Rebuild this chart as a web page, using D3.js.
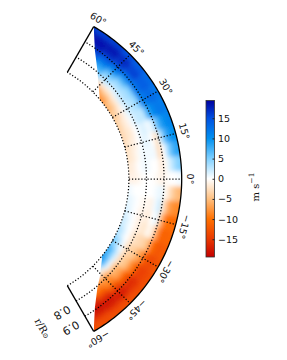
<!DOCTYPE html>
<html>
<head>
<meta charset="utf-8">
<script src="https://cdn.jsdelivr.net/npm/d3@7"></script>
<style>
html, body { margin: 0; padding: 0; background: #fff; }
svg { display: block; }
.grid { fill: none; stroke: #000; stroke-width: 1.25; stroke-dasharray: 1.2 1.9; }
.frame { fill: none; stroke: #000; stroke-width: 1.3; }
.lat-label, .r-label { font-family: "DejaVu Sans"; font-size: 9.5px; fill: #111; }
.unit { font-family: "DejaVu Serif"; font-size: 10px; fill: #111; }
</style>
</head>
<body>
<div id="chart"></div>
<script>
const radii = [0.7125, 0.7375, 0.7625, 0.7875, 0.8125, 0.8375, 0.8625, 0.8875, 0.9125, 0.9375, 0.9625, 0.9875];
const latitudes = [60, 55, 50, 45, 40, 35, 30, 25, 20, 15, 10, 5, 0, -5, -10, -15, -20, -25, -30, -35, -40, -45, -50, -55, -60];

// velocity in m/s, one row per latitude, inner to outer radius
const velocity = [
    [5, 6, 8, 10, 12, 14, 16, 17, 18, 18.5, 18, 16],
    [2, 4, 6, 8, 10, 12, 14, 16, 18, 18.5, 18, 16],
    [-5, -1, 2, 5, 7, 9, 12, 14.5, 17, 18, 18, 16],
    [-8, -6, -2, 2, 4, 6, 10, 13, 16, 17, 17, 15],
    [-7.5, -5, -2, 1, 3, 4, 7, 11, 14, 16, 15.5, 14],
    [-5.5, -4, -1.5, 1.5, 3, 3.5, 5, 11, 13, 14, 14, 13],
    [-4, -3, -1, 1, 2.5, 3, 4.5, 10.5, 12, 13, 13, 12],
    [-3.5, -2, -1, 0.5, 2, 2.5, 2.5, 7.5, 10, 11.5, 12, 11.5],
    [-3, -2, -1.5, 0, 1, 1.5, 0.5, 1.5, 6, 9, 10.5, 11],
    [-2.5, -1.5, -1, 0, 1, 1, 0, -2.5, 2.5, 7, 9.5, 10],
    [-2, -1.5, -0.5, 0.5, 0.5, 0.5, 0.5, -3, 0, 4, 7, 8.5],
    [-1.5, -1, 0, 0.5, 0.5, 0, 0, -1.5, -0.5, 1.5, 3.5, 5],
    [-1, -1, -0.5, 0, 0, 0, -0.5, -1, -0.5, 0, 0, 0.5],
    [0.5, 0, 0, 0, 0, 0, 0.5, 1, -0.5, -2.5, -4.5, -5.5],
    [1, 0.5, 0, -0.5, -0.5, -1, 0.5, 2, -2.5, -6.5, -8, -8.5],
    [1.5, 0.5, 0, -1, -1, -1.5, 0, 1, -5, -9.5, -10.5, -10.5],
    [2, 1, 0, -1, -1.5, -2, -0.5, -2, -7, -11, -11.5, -11],
    [3, 1.5, 0, -1.5, -2.5, -3, -3.5, -5, -9.5, -12, -12.5, -12],
    [5, 3, 0.5, -2, -3.5, -4, -6, -8, -12, -13.5, -13.5, -12.5],
    [7.5, 5, 1.5, -2.5, -4, -5, -8, -10.5, -14, -14.5, -14, -13],
    [9, 6, 1, -4, -6, -7, -10, -13, -16, -16, -14.5, -13],
    [6, 2, -2, -6, -8, -9, -12, -15, -17, -17, -14.5, -13],
    [2, -2, -4, -7, -9, -11, -14, -17, -18, -17, -14.5, -13],
    [-1, -3, -5, -8, -11, -13, -16, -18, -18.5, -16.5, -14, -13],
    [-3, -5, -7, -10, -13, -15, -17, -19, -19, -16, -14, -13]
];

// where the data stops: radius and latitude along each edge
const edgeRadii = [0.7, 0.71, 0.77, 0.81, 0.89, 1];
const northEdge = [40.5, 41.3, 47, 50, 55.3, 60];
const southEdge = [-39, -39.6, -46, -50, -55.3, -60];

const colorValues = [-19.4, -15, -10, -5, 0, 5, 10, 15, 19.4];
const colorHexes = ["#c40000", "#e83800", "#ff7000", "#ffc080", "#ffffff", "#80d0ff", "#0090f0", "#0050e0", "#0000a0"];

const latTicks = [60, 45, 30, 15, 0, -15, -30, -45, -60];
const radiusGrid = [0.7, 0.8, 0.9];
const radiusLabels = [0.8, 0.9];
const barTicks = [15, 10, 5, 0, -5, -10, -15];

const width = 287, height = 360;
const cx = 5.7, cy = 179;
const rStep = 0.025, latStep = 5;

const svg = d3.select("#chart").append("svg").attr("width", width).attr("height", height);
const defs = svg.append("defs");
const plot = svg.append("g").attr("transform", `translate(${cx}, ${cy})`);

const rScale = d3.scaleLinear().domain([0, 1]).range([0, 176]);
const angle = d3.scaleLinear().domain([-90, 90]).range([Math.PI, 0]);
const color = d3.scaleLinear().domain(colorValues).range(colorHexes).clamp(true);
const arc = d3.arc();
const polar = (r, lat) => [r * Math.sin(angle(lat)), -r * Math.cos(angle(lat))];
const radial = d3.lineRadial().angle(d => angle(d.lat)).radius(d => rScale(d.r));
const circleAt = r => d3.range(-60, 61).map(lat => ({ r: r, lat: lat }));

// outline of the region with data
const north = edgeRadii.map((r, i) => ({ r: r, lat: northEdge[i] }));
const south = edgeRadii.map((r, i) => ({ r: r, lat: southEdge[i] }));
const outerArc = d3.range(-58, 60, 2).map(lat => ({ r: 1, lat: lat }));
const innerArc = d3.range(38, -38, -2).map(lat => ({ r: 0.7, lat: lat }));
const outline = [...north.slice().reverse(), ...innerArc, ...south, ...outerArc];

defs.append("clipPath").attr("id", "field-clip")
    .append("path").attr("d", radial.curve(d3.curveLinearClosed)(outline));
radial.curve(d3.curveLinear);

defs.append("filter").attr("id", "smooth")
    .attr("filterUnits", "userSpaceOnUse")
    .attr("x", -20).attr("y", -200).attr("width", 240).attr("height", 400)
    .append("feGaussianBlur").attr("stdDeviation", 2.3);

const field = plot.append("g").attr("clip-path", "url(#field-clip)")
    .append("g").attr("filter", "url(#smooth)");

latitudes.forEach((lat, row) => {
    radii.forEach((r, col) => {
        // border cells run past the clip so the blur does not fade at the edge
        const pad = (col === 0 ? -12 : 0);
        const padOut = (col === radii.length - 1 ? 12 : 0);
        const top = lat === 60 ? lat + 8 : lat + latStep / 2;
        const bottom = lat === -60 ? lat - 8 : lat - latStep / 2;
        field.append("path")
            .attr("d", arc({
                innerRadius: rScale(r - rStep / 2) + pad,
                outerRadius: rScale(r + rStep / 2) + padOut,
                startAngle: angle(top),
                endAngle: angle(bottom)
            }))
            .attr("fill", color(velocity[row][col]))
            .attr("stroke", color(velocity[row][col]))
            .attr("stroke-width", 0.5);
    });
});

// dotted grid
latTicks.filter(d => Math.abs(d) < 60).forEach(lat => {
    const a = polar(rScale(0.7), lat), b = polar(rScale(1), lat);
    plot.append("line").attr("class", "grid")
        .attr("x1", a[0]).attr("y1", a[1]).attr("x2", b[0]).attr("y2", b[1]);
});
radiusGrid.forEach(r => {
    plot.append("path").attr("class", "grid").attr("d", radial(circleAt(r)));
});

// solid frame
plot.append("path").attr("class", "frame").attr("d", radial(circleAt(1)));
[60, -60].forEach(lat => {
    const a = polar(rScale(0.7), lat), b = polar(rScale(1), lat);
    plot.append("line").attr("class", "frame")
        .attr("x1", a[0]).attr("y1", a[1]).attr("x2", b[0]).attr("y2", b[1]);
});

// latitude labels turn with the angle
latTicks.forEach(lat => {
    const p = polar(185, lat);
    plot.append("text").attr("class", "lat-label")
        .attr("transform", `translate(${p[0]}, ${p[1]}) rotate(${90 - lat})`)
        .attr("text-anchor", "middle")
        .attr("dominant-baseline", "central")
        .text(`${lat < 0 ? "\u2212" : ""}${Math.abs(lat)}\u00b0`);
});

// radius labels below the -60 edge
radiusLabels.forEach(r => {
    const p = polar(rScale(r), -60);
    plot.append("text").attr("class", "r-label")
        .attr("transform", `translate(${p[0] - 14.2}, ${p[1] + 11.5}) rotate(150)`)
        .attr("text-anchor", "middle")
        .attr("dominant-baseline", "central")
        .style("font-size", "11px")
        .text(r.toFixed(1));
});
const axisLabel = plot.append("text").attr("class", "unit")
    .attr("transform", `translate(${43 - cx}, ${328 - cy}) rotate(60)`)
    .attr("text-anchor", "middle")
    .attr("dominant-baseline", "central");
axisLabel.append("tspan").text("r/R");
axisLabel.append("tspan").attr("dy", 2).style("font-size", "7px").text("\u2299");

// colorbar
const barX = 206, barW = 8.5;
const barY = d3.scaleLinear().domain([-19.4, 19.4]).range([257, 100.5]);
const gradient = defs.append("linearGradient").attr("id", "bar-gradient")
    .attr("x1", 0).attr("y1", 1).attr("x2", 0).attr("y2", 0);
colorValues.forEach((v, i) => {
    gradient.append("stop")
        .attr("offset", (v + 19.4) / 38.8)
        .attr("stop-color", colorHexes[i]);
});
svg.append("rect")
    .attr("x", barX).attr("y", barY(19.4))
    .attr("width", barW).attr("height", barY(-19.4) - barY(19.4))
    .attr("fill", "url(#bar-gradient)")
    .attr("stroke", "#333").attr("stroke-width", 0.8);

const barAxis = svg.append("g")
    .attr("transform", `translate(${barX + barW}, 0)`)
    .call(d3.axisRight(barY).tickValues(barTicks).tickSize(-2).tickPadding(3.5)
        .tickFormat(d => d < 0 ? "\u2212" + Math.abs(d) : d));
barAxis.select(".domain").remove();
barAxis.selectAll("text").style("font-family", "DejaVu Sans").style("font-size", "9.5px").attr("fill", "#111");
barAxis.selectAll("line").attr("stroke", "#222");

const unit = svg.append("text").attr("class", "unit")
    .attr("transform", "translate(255, 187) rotate(-90)")
    .attr("text-anchor", "middle")
    .attr("dominant-baseline", "central");
unit.append("tspan").text("m s");
unit.append("tspan").attr("dy", -4).style("font-size", "7.5px").text("\u22121");
</script>
</body>
</html>
